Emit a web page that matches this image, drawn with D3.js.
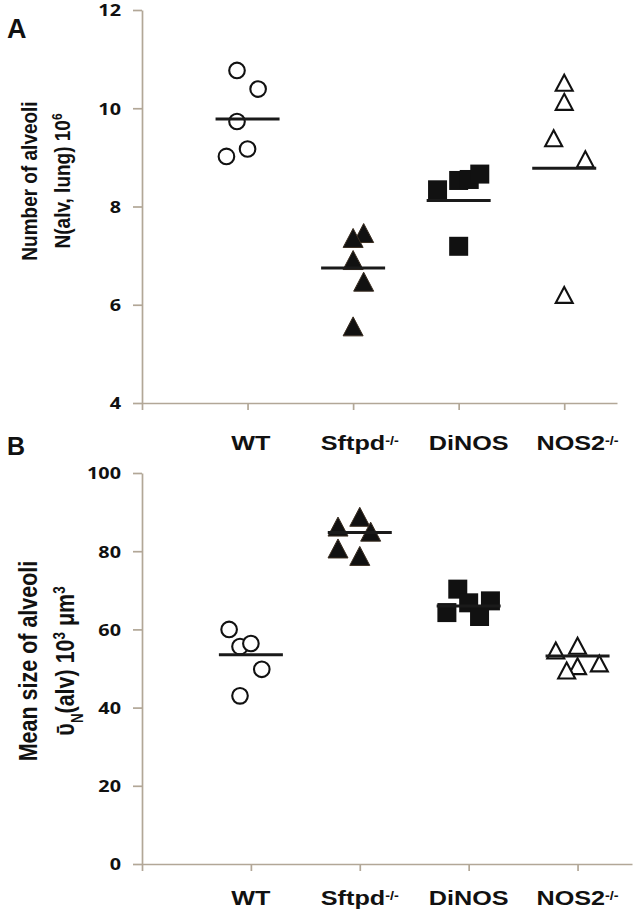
<!DOCTYPE html>
<html>
<head>
<meta charset="utf-8">
<script src="https://cdn.jsdelivr.net/npm/d3@7"></script>
<style>
  body { margin: 0; background: #fff; }
  svg { display: block; }
</style>
</head>
<body>
<div id="chart"></div>
<script>
const WIDTH = 638;
const HEIGHT = 920;
const SX = 1.2; // the figure's text is stretched sideways

const groups = ['WT', 'Sftpd', 'DiNOS', 'NOS2'];
const groupSup = ['', '-/-', '', '-/-'];

// A: number of alveoli, N(alv, lung) 10^6
const numberTicks = [4, 6, 8, 10, 12];
const numberWT = [10.77, 10.39, 9.73, 9.17, 9.02];
const numberSftpd = [7.46, 7.36, 6.91, 6.47, 5.56];
const numberDiNOS = [8.34, 8.53, 8.55, 8.66, 7.19];
const numberNOS2 = [10.52, 10.13, 9.39, 8.96, 6.20];
const numberMeans = [9.78, 6.75, 8.12, 8.78];
const numberJitter = [[-0.1, 0.1, -0.1, 0, -0.2], [0.1, 0, 0, 0.1, 0], [-0.2, 0, 0.1, 0.2, 0], [0, 0, -0.1, 0.2, 0]];

// B: mean size of alveoli, 10^3 µm^3
const sizeTicks = [0, 20, 40, 60, 80, 100];
const sizeWT = [60.0, 55.6, 56.4, 49.8, 43.0];
const sizeSftpd = [88.8, 86.3, 85.0, 80.7, 78.8];
const sizeDiNOS = [70.3, 64.3, 66.8, 67.3, 63.3];
const sizeNOS2 = [54.6, 55.8, 51.3, 50.6, 49.5];
const sizeMeans = [53.5, 84.8, 66.0, 53.2];
const sizeJitter = [[-0.2, -0.1, 0, 0.1, -0.1], [0, -0.2, 0.1, -0.2, 0], [-0.1, -0.2, 0, 0.2, 0.1], [-0.2, 0, 0.2, 0, -0.1]];

const markers = ['circle', 'triFilled', 'square', 'triOpen'];

const AXIS_COLOR = '#b2a797';
const INK = '#111';
const LABEL_FONT = '"Liberation Sans", Arial, sans-serif';
const TICK_FONT = '"Open Sans", Lato, sans-serif';

const svg = d3.select('#chart')
    .append('svg')
    .attr('width', WIDTH)
    .attr('height', HEIGHT);

function triangle(w, h) {
    return `M0,${-h / 2}L${w / 2},${h / 2}L${-w / 2},${h / 2}Z`;
}

function drawMarker(g, type, x, y) {
    if (type === 'circle') {
        g.append('circle').attr('cx', x).attr('cy', y).attr('r', 7.8)
            .attr('fill', '#fff').attr('stroke', INK).attr('stroke-width', 2.1);
    } else if (type === 'square') {
        g.append('rect').attr('x', x - 9.5).attr('y', y - 9.5)
            .attr('width', 19).attr('height', 19).attr('fill', INK);
    } else if (type === 'triFilled') {
        g.append('path').attr('d', triangle(20, 19))
            .attr('transform', `translate(${x},${y})`).attr('fill', INK)
            .attr('stroke', '#3a2d20').attr('stroke-width', 1);
    } else {
        g.append('path').attr('d', triangle(17, 16))
            .attr('transform', `translate(${x},${y})`).attr('fill', '#fff')
            .attr('stroke', INK).attr('stroke-width', 2.1).attr('stroke-linejoin', 'miter');
    }
}

function drawPanel(cfg) {
    const xScale = d3.scaleLinear().domain([-1, 3.5]).range([cfg.left, cfg.right]);
    const yScale = d3.scaleLinear().domain(cfg.domain).range([cfg.bottom, cfg.top]);

    const xAxis = svg.append('g')
        .attr('transform', `translate(0,${cfg.bottom})`)
        .call(d3.axisBottom(xScale).tickValues([-1, 0, 1, 2, 3]).tickSize(7).tickSizeOuter(0).tickFormat(''));

    const yAxis = svg.append('g')
        .attr('transform', `translate(${cfg.left},0)`)
        .call(d3.axisLeft(yScale).tickValues(cfg.ticks).tickSize(9).tickSizeOuter(0));

    [xAxis, yAxis].forEach((ax) => {
        ax.selectAll('path, line').attr('stroke', AXIS_COLOR).attr('stroke-width', 1.7);
    });
    yAxis.selectAll('text')
        .attr('x', -21 / SX)
        .attr('dy', '0.36em')
        .attr('transform', `scale(${SX},1)`)
        .attr('fill', INK)
        .style('font-family', TICK_FONT)
        .style('font-weight', 700)
        .style('font-size', '16.5px');

    const marks = svg.append('g');
    cfg.series.forEach((values, i) => {
        values.forEach((v, j) => {
            drawMarker(marks, markers[i], xScale(i + cfg.jitter[i][j]), yScale(v));
        });
    });

    svg.append('g').selectAll('line')
        .data(cfg.means)
        .join('line')
        .attr('x1', (d, i) => xScale(i) - 32)
        .attr('x2', (d, i) => xScale(i) + 32)
        .attr('y1', (d) => yScale(d))
        .attr('y2', (d) => yScale(d))
        .attr('stroke', '#1a1a1a')
        .attr('stroke-width', 3);

    // rotated two-line y title
    cfg.title.forEach((parts, k) => {
        const t = svg.append('text')
            .attr('transform', `translate(${cfg.titleX[k]},${cfg.titleY}) scale(${SX},1) rotate(-90)`)
            .attr('text-anchor', 'middle')
            .attr('fill', INK)
            .style('font-family', LABEL_FONT)
            .style('font-weight', 700)
            .style('font-size', `${cfg.titleSize}px`);
        parts.forEach((p) => {
            const s = t.append('tspan').text(p.t);
            if (p.sup) s.attr('baseline-shift', 'super').style('font-size', '62%');
            if (p.sub) s.attr('baseline-shift', 'sub').style('font-size', '62%');
        });
    });

    svg.append('text')
        .attr('x', 7)
        .attr('y', cfg.letterY)
        .attr('fill', INK)
        .style('font-family', LABEL_FONT)
        .style('font-weight', 700)
        .style('font-size', `${cfg.letterSize}px`)
        .text(cfg.letter);

    return xScale;
}

drawPanel({
    letter: 'A', letterY: 38, letterSize: 27,
    top: 10, bottom: 403, left: 142, right: 617,
    domain: [4, 12], ticks: numberTicks,
    series: [numberWT, numberSftpd, numberDiNOS, numberNOS2],
    means: numberMeans, jitter: numberJitter,
    titleX: [37, 70], titleY: 181, titleSize: 19,
    title: [
        [{ t: 'Number of alveoli' }],
        [{ t: 'N(alv, lung) 10' }, { t: '6', sup: true }],
    ],
});

const xB = drawPanel({
    letter: 'B', letterY: 455, letterSize: 25,
    top: 473, bottom: 864, left: 142, right: 632,
    domain: [0, 100], ticks: sizeTicks,
    series: [sizeWT, sizeSftpd, sizeDiNOS, sizeNOS2],
    means: sizeMeans, jitter: sizeJitter,
    titleX: [37, 74], titleY: 661, titleSize: 21.5,
    title: [
        [{ t: 'Mean size of alveoli' }],
        [{ t: 'ῡ' }, { t: 'N', sub: true }, { t: '(alv) 10' }, { t: '3', sup: true }, { t: ' μm' }, { t: '3', sup: true }],
    ],
});

// group labels: one row under each panel
[450, 905].forEach((baseY) => {
    groups.forEach((name, i) => {
        const t = svg.append('text')
            .attr('transform', `translate(${xB(i)},${baseY}) scale(${SX},1)`)
            .attr('text-anchor', 'middle')
            .attr('fill', INK)
            .style('font-family', LABEL_FONT)
            .style('font-weight', 700)
            .style('font-size', '21px');
        t.append('tspan').text(name);
        if (groupSup[i]) {
            t.append('tspan').text(groupSup[i])
                .attr('baseline-shift', '45%')
                .style('font-size', '12px');
        }
    });
});
</script>
</body>
</html>
